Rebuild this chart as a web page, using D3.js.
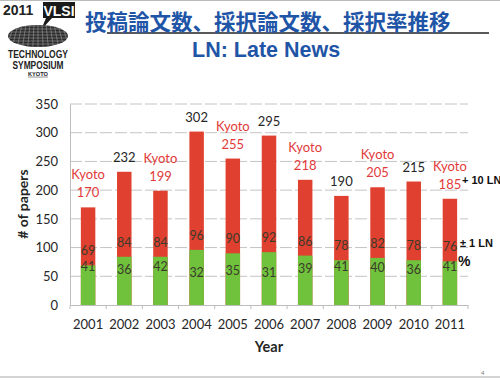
<!DOCTYPE html>
<html>
<head>
<meta charset="utf-8">
<script src="https://cdn.jsdelivr.net/npm/d3@7"></script>
<style>
    html, body { margin: 0; padding: 0; background: #fff; }
    svg { display: block; }
</style>
</head>
<body>
<svg id="chart" width="500" height="380"></svg>
<script>
// chart data
const years = ['2001', '2002', '2003', '2004', '2005', '2006', '2007', '2008', '2009', '2010', '2011'];
const submitted = [170, 232, 199, 302, 255, 295, 218, 190, 205, 215, 185];
const accepted = [69, 84, 84, 96, 90, 92, 86, 78, 82, 78, 76];
const rates = [41, 36, 42, 32, 35, 31, 39, 41, 40, 36, 41];
const kyotoYears = ['2001', '2003', '2005', '2007', '2009', '2011'];
const yTicks = [0, 50, 100, 150, 200, 250, 300, 350];

const titleText = '投稿論文数、採択論文数、採択率推移';
const subtitleText = 'LN: Late News';

const Colors = {
    red: '#e0402f',
    green: '#70c13b',
    blue: '#1f55a6',
    kyoto: '#e23a3a',
    grid: '#c4c4c4',
    axis: '#bdbdbd',
    text: '#262626',
    inner: '#3b3b2c'
};

const svg = d3.select('#chart');
const font = 'Lato, "Open Sans", sans-serif';
const sans = 'Liberation Sans, Arial, sans-serif';

const layout = { left: 70, right: 468, top: 104, bottom: 305 };

const x = d3.scaleBand()
    .domain(years)
    .range([layout.left, layout.right])
    .paddingInner(0.6)
    .paddingOuter(0.3);

const y = d3.scaleLinear().domain([0, 350]).range([layout.bottom, layout.top]);

function drawLogo() {
    const g = svg.append('g');
    g.append('text').text('2011')
        .attr('x', 3).attr('y', 15)
        .attr('font-family', sans)
        .attr('font-weight', 'bold').attr('font-size', 14).attr('fill', '#222');
    // VLSI box with its pointer
    g.append('path')
        .attr('d', 'M43,2 H75 V18 H52 L41,30 L46,18 H43 Z')
        .attr('fill', '#1a1a1a');
    g.append('text').text('VLSI')
        .attr('x', 59).attr('y', 15.5).attr('text-anchor', 'middle')
        .attr('font-family', sans)
        .attr('font-weight', 'bold').attr('font-size', 14).attr('fill', '#fff');
    // gridded wafer
    const clip = svg.append('defs').append('clipPath').attr('id', 'wafer');
    clip.append('ellipse').attr('cx', 38).attr('cy', 36).attr('rx', 30).attr('ry', 11);
    g.append('ellipse').attr('cx', 38).attr('cy', 36).attr('rx', 30).attr('ry', 11).attr('fill', '#2a2a2a');
    const grid = g.append('g').attr('clip-path', 'url(#wafer)')
        .attr('stroke', '#9a9a9a').attr('stroke-width', 0.6);
    d3.range(10, 70, 4).forEach((gx) => {
        grid.append('line').attr('x1', gx).attr('x2', 38 + (gx - 38) * 1.3).attr('y1', 24).attr('y2', 48);
    });
    d3.range(26, 48, 3).forEach((gy) => {
        grid.append('line').attr('x1', 6).attr('x2', 70).attr('y1', gy).attr('y2', gy);
    });
    const label = (txt, yy, size, len) => g.append('text').text(txt)
        .attr('x', 38).attr('y', yy).attr('text-anchor', 'middle')
        .attr('textLength', len).attr('lengthAdjust', 'spacingAndGlyphs')
        .attr('font-family', sans)
        .attr('font-weight', 'bold').attr('font-size', size).attr('fill', '#222');
    label('TECHNOLOGY', 58, 10.5, 60);
    label('SYMPOSIUM', 68.5, 10.5, 51);
    label('KYOTO', 75.5, 5, 20);
    g.append('line').attr('x1', 28).attr('x2', 48).attr('y1', 77).attr('y2', 77)
        .attr('stroke', '#444').attr('stroke-width', 0.6);
}

function drawTitles() {
    svg.append('line').attr('x1', 0).attr('x2', 500).attr('y1', 0.5).attr('y2', 0.5)
        .attr('stroke', '#bbb');
    svg.append('line').attr('x1', 107).attr('x2', 489).attr('y1', 33).attr('y2', 33)
        .attr('stroke', '#5a5a5a').attr('stroke-width', 2);
    svg.append('text').text(titleText)
        .attr('x', 85).attr('y', 30)
        .attr('font-family', '"Noto Sans CJK JP", sans-serif')
        .attr('font-weight', 'bold').attr('font-size', 21.5).attr('fill', Colors.blue);
    svg.append('text').text(subtitleText)
        .attr('x', 192).attr('y', 57)
        .attr('font-family', sans)
        .attr('font-weight', 'bold').attr('font-size', 21.5).attr('fill', Colors.blue);
}

function drawGrid() {
    svg.append('g')
        .selectAll('line')
        .data(yTicks.slice(1))
        .join('line')
        .attr('x1', layout.left).attr('x2', layout.right)
        .attr('y1', (d) => y(d)).attr('y2', (d) => y(d))
        .attr('stroke', Colors.grid).attr('stroke-dasharray', '12,3');
}

function drawAxes() {
    const yAxis = svg.append('g')
        .attr('transform', `translate(${layout.left},0)`)
        .call(d3.axisLeft(y).tickValues(yTicks).tickSize(0).tickPadding(12));
    yAxis.select('.domain').attr('stroke', Colors.axis);
    yAxis.selectAll('text').attr('font-family', font).attr('font-size', 13).attr('fill', Colors.text);

    const xAxis = svg.append('g')
        .attr('transform', `translate(0,${layout.bottom})`)
        .call(d3.axisBottom(x).tickSize(0).tickPadding(15));
    xAxis.select('.domain').attr('stroke', Colors.axis);
    xAxis.selectAll('text').attr('font-family', font).attr('font-size', 13).attr('fill', Colors.text);

    // small ticks between the categories
    svg.append('g')
        .selectAll('line')
        .data(d3.range(years.length + 1))
        .join('line')
        .attr('x1', (i) => layout.left + i * x.step())
        .attr('x2', (i) => layout.left + i * x.step())
        .attr('y1', layout.bottom).attr('y2', layout.bottom + 4)
        .attr('stroke', Colors.axis);

    svg.append('text').text('# of papers')
        .attr('transform', 'translate(28,204) rotate(-90)')
        .attr('text-anchor', 'middle')
        .attr('font-family', font).attr('font-weight', 'bold').attr('font-size', 14).attr('fill', Colors.text);
    svg.append('text').text('Year')
        .attr('x', (layout.left + layout.right) / 2).attr('y', 352)
        .attr('text-anchor', 'middle')
        .attr('font-family', font).attr('font-weight', 'bold').attr('font-size', 14.5).attr('fill', Colors.text);
}

function drawBars() {
    svg.append('g').selectAll('rect')
        .data(years)
        .join('rect')
        .attr('x', (d) => x(d)).attr('width', x.bandwidth())
        .attr('y', (d, i) => y(submitted[i]))
        .attr('height', (d, i) => y(0) - y(submitted[i]))
        .attr('fill', Colors.red);
    svg.append('g').selectAll('rect')
        .data(years)
        .join('rect')
        .attr('x', (d) => x(d)).attr('width', x.bandwidth())
        .attr('y', (d, i) => y(accepted[i]))
        .attr('height', (d, i) => y(0) - y(accepted[i]))
        .attr('fill', Colors.green);
}

function drawLabels() {
    const cx = (d) => x(d) + x.bandwidth() / 2;
    const isKyoto = (d) => kyotoYears.includes(d);
    const g = svg.append('g').attr('font-family', font).attr('text-anchor', 'middle');

    g.selectAll('text.total')
        .data(years)
        .join('text')
        .attr('class', 'total')
        .attr('x', cx)
        .attr('y', (d, i) => y(submitted[i]) - 10)
        .attr('font-size', 13)
        .attr('fill', (d) => isKyoto(d) ? Colors.kyoto : Colors.text)
        .text((d, i) => submitted[i]);

    g.selectAll('text.kyoto')
        .data(years.filter(isKyoto))
        .join('text')
        .attr('class', 'kyoto')
        .attr('x', cx)
        .attr('y', (d) => y(submitted[years.indexOf(d)]) - 28)
        .attr('font-size', 13)
        .attr('fill', Colors.kyoto)
        .text('Kyoto');

    g.selectAll('text.acc')
        .data(years)
        .join('text')
        .attr('class', 'acc')
        .attr('x', cx)
        .attr('y', (d, i) => y(accepted[i]) - 10)
        .attr('font-size', 12.5)
        .attr('fill', Colors.inner)
        .text((d, i) => accepted[i]);

    g.selectAll('text.rate')
        .data(years)
        .join('text')
        .attr('class', 'rate')
        .attr('x', cx)
        .attr('y', (d, i) => y(rates[i]) - 10)
        .attr('font-size', 12.5)
        .attr('fill', Colors.inner)
        .text((d, i) => rates[i]);
}

function drawNotes() {
    const note = (txt, xx, yy, size) => svg.append('text').text(txt)
        .attr('x', xx).attr('y', yy)
        .attr('font-family', sans)
        .attr('font-weight', 'bold').attr('font-size', size).attr('fill', '#111');
    note('+ 10 LN', 462, 184, 11);
    note('± 1 LN', 460, 247, 11);
    note('%', 458, 266, 14);

    svg.append('line').attr('x1', 0).attr('x2', 500).attr('y1', 377).attr('y2', 377)
        .attr('stroke', '#aaa');
    svg.append('text').text('4')
        .attr('x', 481).attr('y', 375)
        .attr('font-family', font).attr('font-size', 6).attr('fill', '#777');
}

drawLogo();
drawTitles();
drawGrid();
drawBars();
drawAxes();
drawLabels();
drawNotes();
</script>
</body>
</html>
